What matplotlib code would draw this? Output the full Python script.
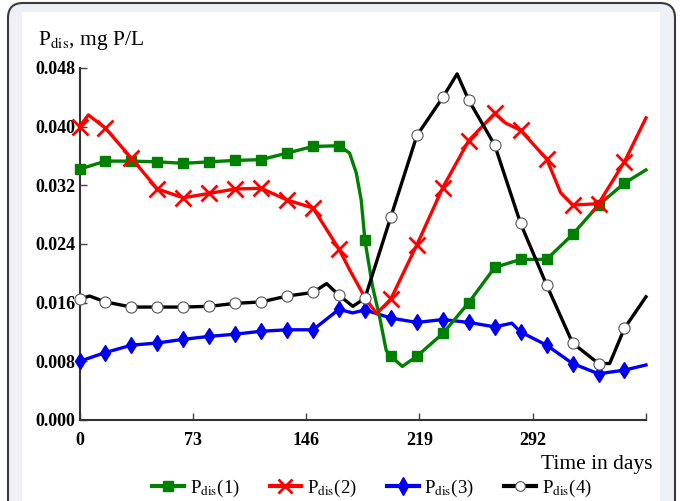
import matplotlib
matplotlib.use("Agg")
import matplotlib.pyplot as plt
from matplotlib.patches import FancyBboxPatch, Rectangle
from matplotlib.lines import Line2D

plt.rcParams['font.family'] = ['Liberation Serif', 'DejaVu Serif']
plt.rcParams['mathtext.fontset'] = 'stix'

# P_dis(1) - green squares
days1 = [0, 16.7, 33.4, 50.2, 66.9, 83.6, 100.3, 117.0, 133.8, 150.5, 167.2, 174.0, 178.3,
         181.5, 183.9, 188.8, 193.3, 197.6, 200.6, 208.0, 217.4, 234.1, 250.8, 267.5, 284.2,
         301.0, 317.7, 334.4, 351.1, 365]
vals1 = [0.0342, 0.0353, 0.0353, 0.0352, 0.0350, 0.0352, 0.0354, 0.0355, 0.0364, 0.0373, 0.0374,
         0.0364, 0.0337, 0.0300, 0.0245, 0.0182, 0.0141, 0.0095, 0.0087, 0.0073, 0.0087, 0.0118,
         0.0160, 0.0208, 0.0219, 0.0219, 0.0253, 0.0293, 0.0323, 0.0341]
mark1 = [0, 1, 2, 3, 4, 5, 6, 7, 8, 9, 10, 14, 18, 20, 21, 22, 23, 24, 25, 26, 27, 28]

# P_dis(2) - red crosses
days2 = [0, 5.7, 16.7, 33.4, 50.2, 66.9, 83.6, 100.3, 117.0, 133.8, 150.5, 167.2, 174.0,
         183.9, 191.4, 200.6, 217.4, 234.1, 250.8, 267.5, 274.5, 284.2, 301.0, 310.0, 317.7,
         334.4, 351.1, 365]
vals2 = [0.0400, 0.0416, 0.0398, 0.0357, 0.0315, 0.0303, 0.0309, 0.0315, 0.0316, 0.0300, 0.0289,
         0.0233, 0.0205, 0.0167, 0.0145, 0.0165, 0.0239, 0.0317, 0.0381, 0.0418, 0.0405, 0.0395,
         0.0356, 0.0310, 0.0293, 0.0295, 0.0352, 0.0412]
mark2 = [0, 2, 3, 4, 5, 6, 7, 8, 9, 10, 11, 15, 16, 17, 18, 19, 21, 22, 24, 25, 26]

# P_dis(3) - blue diamonds
days3 = [0, 16.7, 33.4, 50.2, 66.9, 83.6, 100.3, 117.0, 133.8, 150.5, 167.2, 175.9, 183.9,
         200.6, 217.4, 234.1, 250.8, 267.5, 278.6, 284.2, 301.0, 317.7, 334.4, 351.1, 365]
vals3 = [0.0080, 0.0092, 0.0102, 0.0105, 0.0110, 0.0114, 0.0117, 0.0121, 0.0123, 0.0123, 0.0151,
         0.0146, 0.0150, 0.0139, 0.0133, 0.0137, 0.0133, 0.0127, 0.0132, 0.0120, 0.0102, 0.0077,
         0.0063, 0.0068, 0.0075]
mark3 = [0, 1, 2, 3, 4, 5, 6, 7, 8, 9, 10, 12, 13, 14, 15, 16, 17, 19, 20, 21, 22, 23]

# P_dis(4) - black open circles
days4 = [0, 6.5, 16.7, 33.4, 50.2, 66.9, 83.6, 100.3, 117.0, 133.8, 150.5, 159.2, 167.2, 176.1,
         183.9, 200.6, 217.4, 234.1, 243.3, 250.8, 267.5, 284.2, 301.0, 317.7, 334.4, 341.6,
         351.1, 365]
vals4 = [0.0165, 0.0169, 0.0161, 0.0154, 0.0154, 0.0154, 0.0155, 0.0159, 0.0161, 0.0169, 0.0174,
         0.0186, 0.0170, 0.0155, 0.0166, 0.0277, 0.0388, 0.0440, 0.0472, 0.0436, 0.0375, 0.0268,
         0.0184, 0.0105, 0.0077, 0.0077, 0.0125, 0.0168]
mark4 = [0, 2, 3, 4, 5, 6, 7, 8, 9, 10, 12, 14, 15, 16, 17, 19, 20, 21, 22, 23, 24, 26]

xticks = [0, 73, 146, 219, 292, 365]
xlabels = ['0', '73', '146', '219', '292', '']
yticks = [0.000, 0.008, 0.016, 0.024, 0.032, 0.040, 0.048]

fig = plt.figure(figsize=(6.82, 5.01), dpi=100)

# card frame behind everything (runs off the bottom edge)
outer = FancyBboxPatch((0.08, -1.5), 6.67, 6.48, boxstyle="round,pad=0,rounding_size=0.15",
                       transform=fig.dpi_scale_trans, facecolor='#edf0f4', edgecolor='#3a3a3a',
                       linewidth=1.5, zorder=-5)
fig.patches.append(outer)
inner = Rectangle((0.22, -1.0), 6.38, 5.89, transform=fig.dpi_scale_trans,
                  facecolor='white', edgecolor='none', zorder=-4)
fig.patches.append(inner)

ax = fig.add_axes([0.1166, 0.1617, 0.8306, 0.7026])
ax.patch.set_alpha(0)

lw = 2.4
ax.plot(days3, vals3, color='#0000ee', lw=lw, marker='d', ms=8.5, mec='#0000ee',
        markevery=mark3, clip_on=False, zorder=3)
ax.plot(days1, vals1, color='#008000', lw=lw, marker='s', ms=7.5, mec='#008000',
        markevery=mark1, clip_on=False, zorder=4)
ax.plot(days2, vals2, color='#ff0000', lw=lw, marker='x', ms=11, mew=2,
        markevery=mark2, clip_on=False, zorder=5)
ax.plot(days4, vals4, color='black', lw=lw, marker='o', ms=8, mfc='white', mec='#555555',
        mew=0.8, markevery=mark4, clip_on=False, zorder=6)

ax.set_xlim(0, 365)
ax.set_ylim(0, 0.048)
ax.set_xticks(xticks)
ax.set_xticklabels(xlabels)
ax.set_yticks(yticks)
ax.set_yticklabels(['%.3f' % v for v in yticks])
ax.tick_params(direction='in', length=5, width=1, colors='#444444', labelcolor='black',
               labelsize=13)
ax.tick_params(axis='x', pad=9)
ax.tick_params(axis='y', pad=3)
plt.setp(ax.get_xticklabels(), fontweight='bold')
plt.setp(ax.get_yticklabels(), fontweight='bold')
for s in ['top', 'right']:
    ax.spines[s].set_visible(False)
for s in ['left', 'bottom']:
    ax.spines[s].set_linewidth(1.5)
    ax.spines[s].set_color('#333333')

fig.text(38 / 682, 1 - 40 / 501, r'P$_{\mathrm{dis}}$, mg P/L', fontsize=15.5, va='center', ha='left')
fig.text(597 / 682, 1 - 464 / 501, 'Time in days', fontsize=15.5, va='center', ha='center')

handles = [
    Line2D([], [], color='#008000', lw=3, marker='s', ms=7, mec='#008000'),
    Line2D([], [], color='#ff0000', lw=3, marker='x', ms=10, mew=2),
    Line2D([], [], color='#0000ee', lw=3, marker='d', ms=9, mec='#0000ee'),
    Line2D([], [], color='black', lw=3, marker='o', ms=7, mfc='white', mec='#555555', mew=0.8),
]
labels = [r'P$_{\mathrm{dis}}$(1)', r'P$_{\mathrm{dis}}$(2)', r'P$_{\mathrm{dis}}$(3)',
          r'P$_{\mathrm{dis}}$(4)']
fig.legend(handles, labels, loc='center', bbox_to_anchor=(372 / 682, 1 - 488 / 501), ncol=4,
           frameon=False, fontsize=13.5, handlelength=1.7, handletextpad=0.3, columnspacing=1.6)

fig.savefig('out.png', dpi=100)
